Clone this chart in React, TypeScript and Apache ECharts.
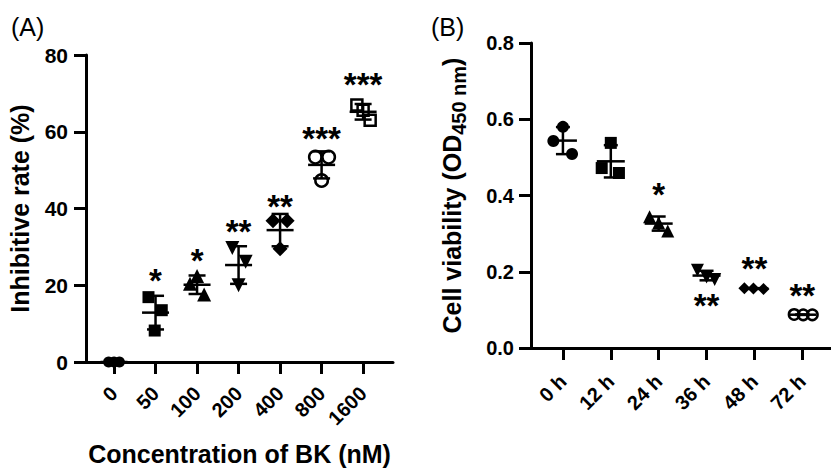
import React, { useEffect, useRef } from 'react';
import * as echarts from 'echarts';

const FONT = '"Liberation Sans", Arial, Helvetica, sans-serif';

// ---------- Panel A: inhibitive rate (%) vs BK concentration ----------
const concLabels = ['0', '50', '100', '200', '400', '800', '1600'];
const inhibitionValues = [
  [0, 0, 0],
  [16.9, 13.5, 8.2],
  [22.4, 20.4, 17.6],
  [29.7, 26.1, 20.0],
  [36.8, 36.8, 29.5],
  [53.4, 53.4, 47.3],
  [67.0, 65.6, 63.0],
];
const inhibitionSig = ['', '*', '*', '**', '**', '***', '***'];
const inhibitionSigY = [0, 23.1, 28.3, 35.8, 42.3, 60.1, 74.1];
const inhibitionTicks = [0, 20, 40, 60, 80];

// ---------- Panel B: cell viability (OD450) vs time ----------
const timeLabels = ['0 h', '12 h', '24 h', '36 h', '48 h', '72 h'];
const viabilityValues = [
  [0.543, 0.58, 0.509],
  [0.538, 0.472, 0.459],
  [0.344, 0.328, 0.307],
  [0.204, 0.186, 0.18],
  [0.157, 0.156, 0.155],
  [0.088, 0.087, 0.087],
];
const viabilitySig = ['', '', '*', '**', '**', '**'];
const viabilitySigY = [0, 0, 0.421, 0.13, 0.2256, 0.157];

// ---------- layout / style (not data) ----------
const jitterA = [
  [-0.13, 0, 0.13],
  [-0.17, 0.15, -0.02],
  [0, -0.17, 0.17],
  [-0.15, 0.17, 0],
  [-0.17, 0.17, 0],
  [-0.15, 0.17, 0],
  [-0.15, 0, 0.17],
];
const jitterB = [
  [-0.2, 0, 0.19],
  [0, -0.19, 0.17],
  [-0.19, 0, 0.19],
  [-0.19, 0, 0.17],
  [-0.21, -0.02, 0.19],
  [-0.17, 0.02, 0.21],
];
type Mk = { symbol: string; size: number; rotate?: number; open?: boolean };
const markersA: Mk[] = [
  { symbol: 'circle', size: 11 },
  { symbol: 'rect', size: 12 },
  { symbol: 'triangle', size: 14 },
  { symbol: 'triangle', size: 14, rotate: 180 },
  { symbol: 'diamond', size: 15 },
  { symbol: 'circle', size: 12.5, open: true },
  { symbol: 'rect', size: 11, open: true },
];
const markersB: Mk[] = [
  { symbol: 'circle', size: 12 },
  { symbol: 'rect', size: 12 },
  { symbol: 'triangle', size: 13 },
  { symbol: 'triangle', size: 13, rotate: 180 },
  { symbol: 'diamond', size: 12 },
  { symbol: 'circle', size: 10.5, open: true },
];

const mean = (a: number[]) => a.reduce((s, v) => s + v, 0) / a.length;
const sd = (a: number[]) => {
  const m = mean(a);
  return Math.sqrt(a.reduce((s, v) => s + (v - m) ** 2, 0) / (a.length - 1));
};

const black = '#000';
const axisLineStyle = { color: black, width: 3 };

function scatterSeries(idx: number, groups: number[][], jitter: number[][], markers: Mk[]) {
  return groups.map((g, i) => {
    const mk = markers[i];
    return {
      type: 'scatter',
      xAxisIndex: idx,
      yAxisIndex: idx,
      symbol: mk.symbol,
      symbolSize: mk.size,
      symbolRotate: mk.rotate || 0,
      clip: false,
      silent: true,
      z: 3,
      itemStyle: mk.open
        ? { color: 'rgba(0,0,0,0)', borderColor: black, borderWidth: 2.5, opacity: 1 }
        : { color: black, borderWidth: 0, opacity: 1 },
      data: g.map((v, j) => [i + jitter[i][j], v]),
    };
  });
}

function errorBarSeries(idx: number, groups: number[][], meanHalf: number, capHalf: number) {
  return {
    type: 'custom',
    xAxisIndex: idx,
    yAxisIndex: idx,
    silent: true,
    clip: false,
    z: 4,
    encode: { x: 0, y: 1 },
    data: groups.map((g, i) => [i, mean(g), sd(g)]),
    renderItem: (_p: any, api: any) => {
      const x = api.value(0);
      const m = api.value(1);
      const s = api.value(2);
      const c = api.coord([x, m]);
      const t = api.coord([x, m + s]);
      const b = api.coord([x, m - s]);
      const st = { stroke: black, lineWidth: 2.5 };
      return {
        type: 'group',
        children: [
          { type: 'line', shape: { x1: c[0] - meanHalf, y1: c[1], x2: c[0] + meanHalf, y2: c[1] }, style: st },
          { type: 'line', shape: { x1: c[0], y1: t[1], x2: c[0], y2: b[1] }, style: st },
          { type: 'line', shape: { x1: c[0] - capHalf, y1: t[1], x2: c[0] + capHalf, y2: t[1] }, style: st },
          { type: 'line', shape: { x1: c[0] - capHalf, y1: b[1], x2: c[0] + capHalf, y2: b[1] }, style: st },
        ],
      };
    },
  };
}

function sigSeries(idx: number, texts: string[], ys: number[]) {
  return {
    type: 'scatter',
    xAxisIndex: idx,
    yAxisIndex: idx,
    symbol: 'circle',
    symbolSize: 1,
    silent: true,
    clip: false,
    z: 5,
    itemStyle: { color: 'rgba(0,0,0,0)', opacity: 1 },
    label: {
      show: true,
      position: 'inside',
      formatter: '{b}',
      fontSize: 33,
      fontWeight: 'bold',
      fontFamily: FONT,
      color: black,
      opacity: 1,
      offset: [0, 7],
    },
    data: texts
      .map((t, i) => ({ name: t, value: [i, ys[i]] }))
      .filter((d) => d.name !== ''),
  };
}

const tickIdxA = concLabels.map((_, i) => i);
const tickIdxB = timeLabels.map((_, i) => i);

const tickLabelStyle = { color: black, fontWeight: 'bold', fontFamily: FONT };
const nameStyle = { color: black, fontWeight: 'bold', fontFamily: FONT, fontSize: 25 };

const option: any = {
  animation: false,
  backgroundColor: '#fff',
  grid: [
    { left: 86, top: 55, width: 307, height: 307, outerBoundsMode: 'none', containLabel: false },
    { left: 531, top: 43, width: 300, height: 305, outerBoundsMode: 'none', containLabel: false },
  ],
  xAxis: [
    {
      gridIndex: 0,
      type: 'value',
      min: -0.675,
      max: 6.72,
      axisLine: { show: true, onZero: false, lineStyle: axisLineStyle },
      axisTick: { show: true, customValues: tickIdxA, length: 12, lineStyle: axisLineStyle },
      axisLabel: {
        customValues: tickIdxA,
        formatter: (v: number) => concLabels[Math.round(v)],
        rotate: 45,
        margin: 28,
        fontSize: 20,
        ...tickLabelStyle,
      },
      splitLine: { show: false },
      name: 'Concentration of BK (nM)',
      nameLocation: 'middle',
      nameGap: 79,
      nameTextStyle: nameStyle,
    },
    {
      gridIndex: 1,
      type: 'value',
      min: -0.667,
      max: 5.6,
      axisLine: { show: true, onZero: false, lineStyle: axisLineStyle },
      axisTick: { show: true, customValues: tickIdxB, length: 12, lineStyle: axisLineStyle },
      axisLabel: {
        customValues: tickIdxB,
        formatter: (v: number) => timeLabels[Math.round(v)],
        rotate: 45,
        margin: 30,
        fontSize: 20,
        ...tickLabelStyle,
      },
      splitLine: { show: false },
    },
  ],
  yAxis: [
    {
      gridIndex: 0,
      type: 'value',
      min: inhibitionTicks[0],
      max: inhibitionTicks[inhibitionTicks.length - 1],
      interval: 20,
      axisLine: { show: true, onZero: false, lineStyle: axisLineStyle },
      axisTick: { show: true, length: 12, lineStyle: axisLineStyle },
      axisLabel: { margin: 18, fontSize: 21, ...tickLabelStyle },
      splitLine: { show: false },
      name: 'Inhibitive rate (%)',
      nameLocation: 'middle',
      nameRotate: 90,
      nameGap: 54,
      nameTextStyle: nameStyle,
    },
    {
      gridIndex: 1,
      type: 'value',
      min: 0,
      max: 0.8,
      interval: 0.2,
      axisLine: { show: true, onZero: false, lineStyle: axisLineStyle },
      axisTick: { show: true, length: 12, lineStyle: axisLineStyle },
      axisLabel: {
        margin: 17,
        fontSize: 20,
        formatter: (v: number) => v.toFixed(1),
        ...tickLabelStyle,
      },
      splitLine: { show: false },
      name: '{a|Cell viability (OD}{b|450 nm}{a|)}',
      nameLocation: 'middle',
      nameRotate: 90,
      nameGap: 62,
      nameTextStyle: {
        ...nameStyle,
        rich: {
          a: { fontSize: 25, fontWeight: 'bold', fontFamily: FONT, color: black, lineHeight: 34 },
          b: { fontSize: 20, fontWeight: 'bold', fontFamily: FONT, color: black, lineHeight: 20, verticalAlign: 'bottom' },
        },
      },
    },
  ],
  graphic: [
    { type: 'text', left: 11, top: 14, style: { text: '(A)', fontSize: 25, fontFamily: FONT, fill: black } },
    { type: 'text', left: 431, top: 14, style: { text: '(B)', fontSize: 25, fontFamily: FONT, fill: black } },
  ],
  series: [
    errorBarSeries(0, inhibitionValues, 13.5, 8.5),
    ...scatterSeries(0, inhibitionValues, jitterA, markersA),
    sigSeries(0, inhibitionSig, inhibitionSigY),
    errorBarSeries(1, viabilityValues, 14, 7),
    ...scatterSeries(1, viabilityValues, jitterB, markersB),
    sigSeries(1, viabilitySig, viabilitySigY),
  ],
};

export default function App() {
  const ref = useRef<HTMLDivElement>(null);
  useEffect(() => {
    if (!ref.current) return;
    const chart = echarts.init(ref.current, null, { renderer: 'svg' });
    chart.setOption(option);
    return () => chart.dispose();
  }, []);
  return (
    <div
      ref={ref}
      style={{ position: 'fixed', left: 0, top: 0, width: 831, height: 468, background: '#fff' }}
    />
  );
}
